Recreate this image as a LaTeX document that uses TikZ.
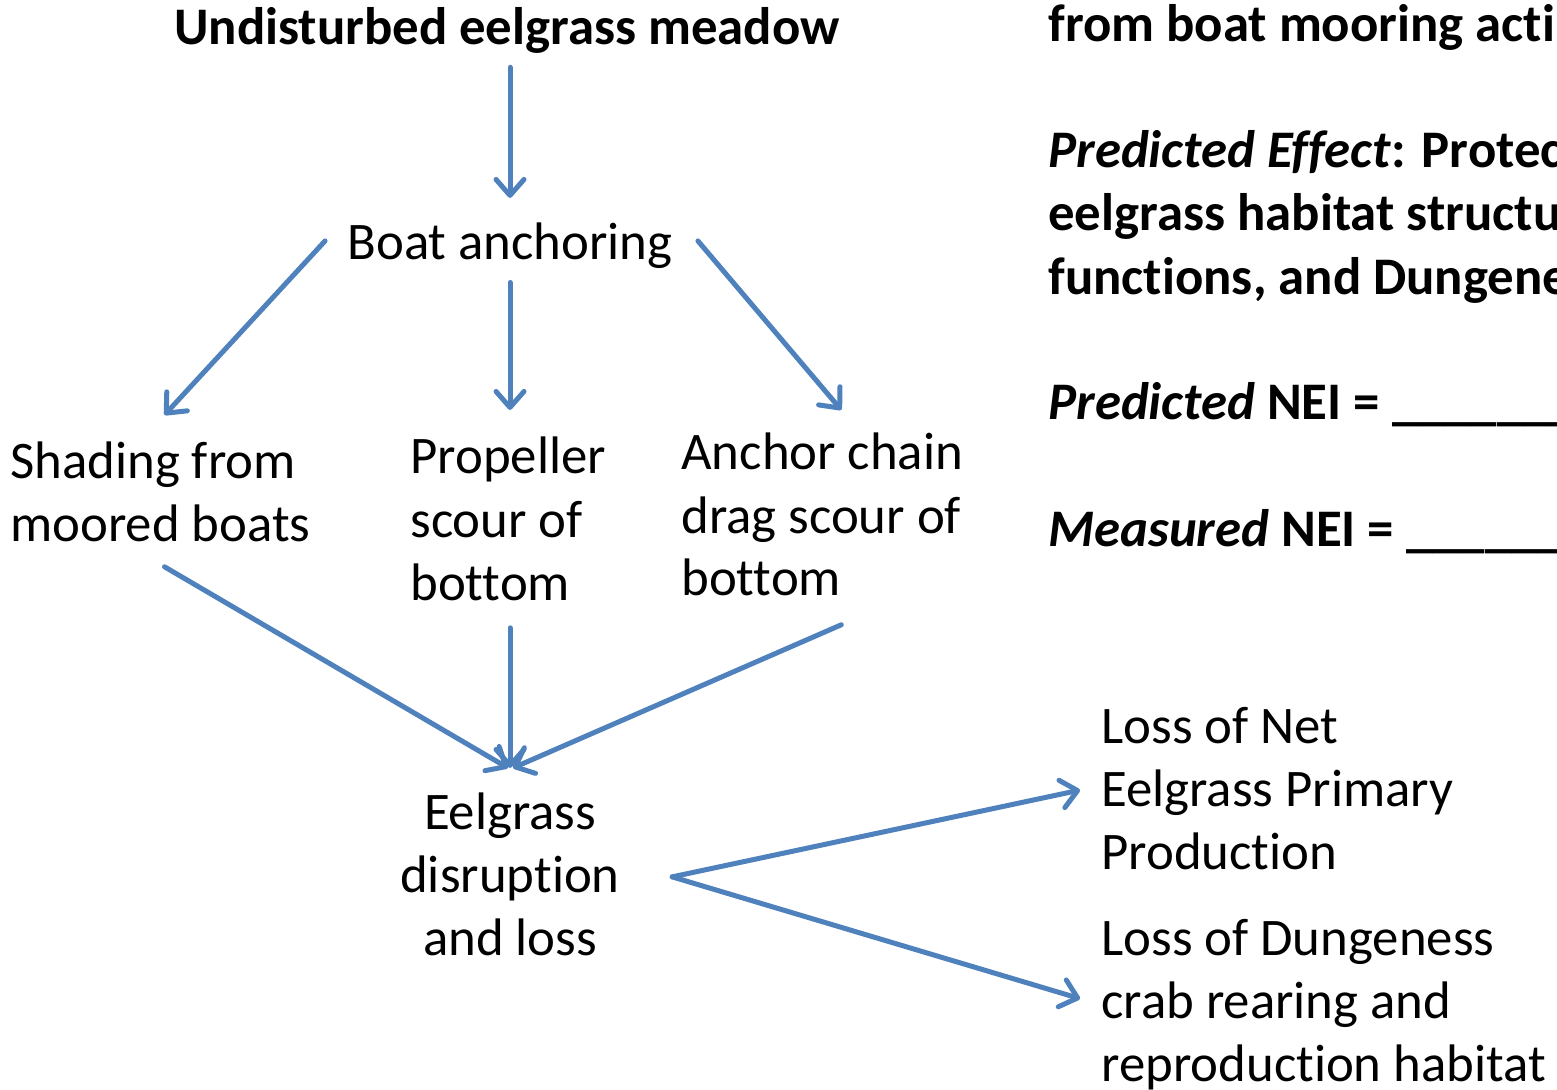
\documentclass[tikz,border=0pt]{standalone}
\usepackage{fontspec}
\setmainfont{Carlito}[RawFeature={-liga;-clig;-calt}]
\usetikzlibrary{arrows.meta}
\definecolor{flowblue}{RGB}{79,129,189}

\begin{document}
\begin{tikzpicture}[x=0.5pt,y=-0.5pt,
  txt/.style={inner sep=0pt, font=\fontsize{26.4}{31.5}\selectfont},
  bold/.style={inner sep=0pt, font=\fontsize{26.4}{31.5}\selectfont\bfseries},
  flow/.style={draw=flowblue, line width=2.5pt, line cap=round, -{Straight Barb[length=8pt,width=14pt,round]}}]
\useasboundingbox (0,0) rectangle (1557,1090);

% Text Node
\node (title) [bold, anchor=base] at (507,45) {Undisturbed eelgrass meadow};
% Text Node
\node (boat) [txt, anchor=base] at (510,260) {Boat anchoring};
% Text Node
\node (shade) [txt, anchor=base west, align=left] at (10,541) {Shading from\\moored boats};
% Text Node
\node (prop) [txt, anchor=base west, align=left] at (410,600) {Propeller\\scour of\\bottom};
% Text Node
\node (chain) [txt, anchor=base west, align=left] at (681,596) {Anchor chain\\drag scour of\\bottom};
% Text Node
\node (loss) [txt, anchor=base, align=center] at (510,955) {Eelgrass\\disruption\\and loss};
% Text Node
\node (net) [txt, anchor=base west, align=left] at (1101,869) {Loss of Net\\Eelgrass Primary\\Production};
% Text Node
\node (crab) [txt, anchor=base west, align=left] at (1101,1081) {Loss of Dungeness\\crab rearing and\\reproduction habitat};
% Text Node
\node (effect) [bold, anchor=base west, align=left] at (1048,546) {from boat mooring acti\\[31.5pt]
  \textit{Predicted Effect}: Protec\\eelgrass habitat structu\\functions, and Dungene\\[31.5pt]
  \textit{Predicted} NEI = \_\_\_\_\_\_\_\\[31.5pt]
  \textit{Measured} NEI = \_\_\_\_\_\_};

%Straight Lines
\draw [flow, shorten <=6.5pt, shorten >=12.5pt] (title.south -| boat.north) -- (boat.north);
%Straight Lines
\draw [flow] ([xshift=-11pt,yshift=-9pt]boat.north west) -- ([xshift=2pt,yshift=13pt]shade.north);
%Straight Lines
\draw [flow, shorten <=6.5pt, shorten >=13.5pt] (boat.south) -- (boat.south |- prop.north);
%Straight Lines
\draw [flow] ([xshift=12.5pt,yshift=-9pt]boat.north east) -- ([xshift=9.5pt,yshift=11.5pt]chain.north);
%Straight Lines
\draw [flow] ([xshift=2pt,yshift=-12.5pt]shade.south) -- ([xshift=-1pt,yshift=12pt]loss.north);
%Straight Lines
\draw [flow, shorten <=13.5pt, shorten >=12pt] (loss.north |- prop.south) -- (loss.north);
%Straight Lines
\draw [flow] ([xshift=9.5pt,yshift=-14pt]chain.south) -- ([xshift=1.5pt,yshift=12pt]loss.north);
%Straight Lines
\draw [flow] ([xshift=26pt,yshift=-1.5pt]loss.east) -- ([xshift=-10.5pt,yshift=-1pt]net.west);
%Straight Lines
\draw [flow] ([xshift=26pt,yshift=-1.5pt]loss.east) -- ([xshift=-10.5pt,yshift=2.75pt]crab.west);
\end{tikzpicture}
\end{document}
